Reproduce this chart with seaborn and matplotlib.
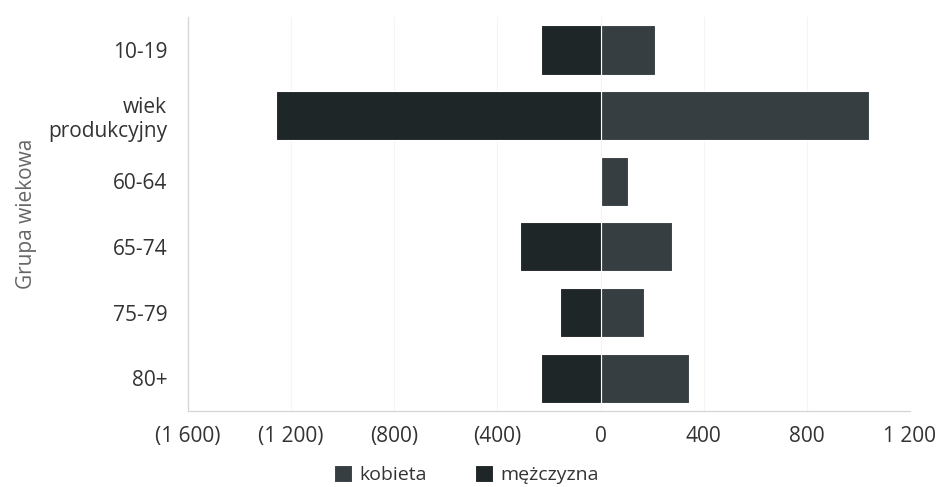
import pandas as pd
import matplotlib
matplotlib.use("Agg")
import matplotlib.pyplot as plt
import seaborn as sns
from matplotlib.ticker import FuncFormatter, MultipleLocator

# Data
groups = ["10-19", "wiek\nprodukcyjny", "60-64", "65-74", "75-79", "80+"]
kobieta = [210, 1040, 107, 278, 167, 342]
mezczyzna = [230, 1260, 0, 311, 158, 230]
sexes = ["kobieta", "mężczyzna"]

df = pd.DataFrame({
    "group": groups * 2,
    "sex": [sexes[0]] * len(groups) + [sexes[1]] * len(groups),
    "value": kobieta + [-v for v in mezczyzna],
})

sns.set_style("white")
plt.rcParams["font.family"] = ["Open Sans", "DejaVu Sans"]

fig = plt.figure(figsize=(9.38, 4.87), dpi=100)
ax = fig.add_axes([0.2004, 0.156, 0.7697, 0.809])

ax.xaxis.grid(True, color="#f4f4f4", linewidth=0.8, zorder=0)
ax.set_axisbelow(True)

sns.barplot(data=df, x="value", y="group", hue="sex", hue_order=sexes,
            order=groups, dodge=False, orient="h", width=0.75,
            palette={"kobieta": "#353f44", "mężczyzna": "#1d2729"},
            edgecolor="white", linewidth=0.8, ax=ax)

ax.set_xlim(-1600, 1200)
ax.set_ylim(len(groups) - 0.5, -0.5)
ax.xaxis.set_major_locator(MultipleLocator(400))


def fmt(v, pos):
    s = f"{abs(v):,.0f}".replace(",", " ")
    return f"({s})" if v < 0 else s


ax.xaxis.set_major_formatter(FuncFormatter(fmt))
ax.tick_params(axis="both", length=0, labelsize=15, colors="#333333")
ax.tick_params(axis="y", pad=15)
ax.tick_params(axis="x", pad=11)

for side in ["top", "right"]:
    ax.spines[side].set_visible(False)
for side in ["left", "bottom"]:
    ax.spines[side].set_color("#d5d5d5")
    ax.spines[side].set_linewidth(0.9)

ax.set_xlabel("")
ax.set_ylabel("Grupa wiekowa", fontsize=15, color="#666666", labelpad=8)

ax.legend(loc="center", bbox_to_anchor=(0.386, -0.162), ncol=2,
          frameon=False, fontsize=14, handlelength=0.9, handleheight=0.9,
          handletextpad=0.4, columnspacing=2.5, labelcolor="#333333",
          borderpad=0)

fig.savefig("out.png", dpi=100)
